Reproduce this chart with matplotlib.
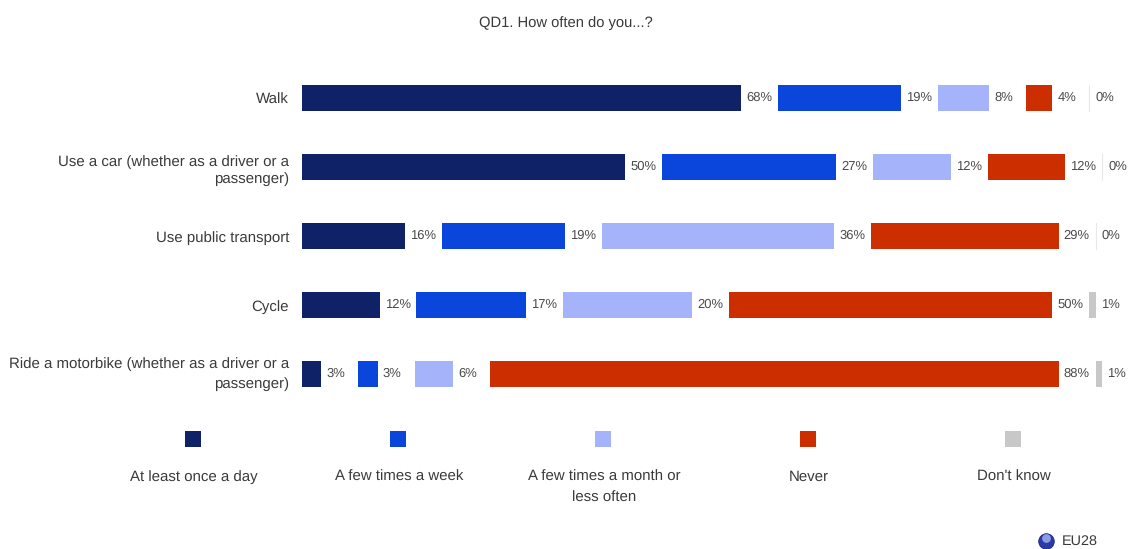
import numpy as np
import matplotlib
matplotlib.use("Agg")
import matplotlib.pyplot as plt

plt.rcParams['font.family'] = ['Liberation Sans', 'DejaVu Sans']
plt.rcParams['text.hinting'] = 'none'

categories = [
    "Walk",
    "Use a car (whether as a driver or a\npassenger)",
    "Use public transport",
    "Cycle",
    "Ride a motorbike (whether as a driver or a\npassenger)",
]
series_names = ["At least once a day", "A few times a week",
                "A few times a month or\nless often", "Never", "Don't know"]
at_least_daily = [68, 50, 16, 12, 3]
few_week = [19, 27, 19, 17, 3]
few_month = [8, 12, 36, 20, 6]
never = [4, 12, 29, 50, 88]
dont_know = [0, 0, 0, 1, 1]
colors = ["#0F2268", "#0B46DC", "#A5B4FA", "#CC2E00", "#C8C8C8"]

W, H = 1130, 549
px_per_pct = 6.46
gap = 36.9 / px_per_pct  # white space between segments, in % units

fig = plt.figure(figsize=(W / 100, H / 100), dpi=100)
ax = fig.add_axes([302 / W, 0, (W - 302) / W, 1])
ax.set_xlim(0, (W - 302) / px_per_pct)
ax.set_ylim((H - 98) / 69.0, -98 / 69.0)

text_col = "#3A3A3A"
y = np.arange(len(categories))
left = np.zeros(len(categories))
for vals, col in zip([at_least_daily, few_week, few_month, never, dont_know], colors):
    vals = np.array(vals)
    ax.barh(y, vals, left=left, height=26 / 69.0, color=col, linewidth=0)
    for yi, l, v in zip(y, left, vals):
        if v == 0:
            # zero values still get a hairline
            ax.plot([l, l], [yi - 0.19, yi + 0.19], color="#E8E8E8", lw=0.8)
        ax.annotate(f"{v}%", (l + v, yi), xytext=(5 if v else 6, 0), textcoords="offset pixels",
                    va="center", ha="left", fontsize=9.4, color="#4A4A4A")
    left = left + vals + gap

ax.set_yticks(y)
ax.set_yticklabels(categories, fontsize=10.8, color=text_col, linespacing=1.28, ha="right")
ax.get_yticklabels()[-1].set_linespacing(1.5)
ax.get_yticklabels()[-1].set_va("center")
ax.tick_params(axis="y", length=0, pad=13 * 72 / 100)
ax.set_xticks([])
for s in ax.spines.values():
    s.set_visible(False)

# title and legend are placed in figure pixels
overlay = fig.add_axes([0, 0, 1, 1], zorder=3)
overlay.set_xlim(0, W)
overlay.set_ylim(H, 0)
overlay.axis("off")
overlay.text(566, 23, "QD1. How often do you...?", ha="center", va="center",
             fontsize=10.6, color=text_col)

legend_x = [193, 398, 603, 808, 1013]
for lx, name, col in zip(legend_x, series_names, colors):
    overlay.add_patch(plt.Rectangle((lx - 8, 431), 16, 16, color=col, lw=0))
    for i, line in enumerate(name.split("\n")):
        overlay.text(lx + 1, 481 + 21 * i, line, ha="center", va="baseline",
                     fontsize=10.8, color=text_col)

overlay.scatter([1046], [540.5], s=125, color="#2A3AA8", edgecolor="#1B2580", linewidth=0.6)
overlay.scatter([1046], [538], s=40, color="#8F9BE0", linewidth=0)
overlay.text(1062, 541, "EU28", ha="left", va="center", fontsize=10.4, color=text_col)

fig.savefig("out.png", dpi=100)
